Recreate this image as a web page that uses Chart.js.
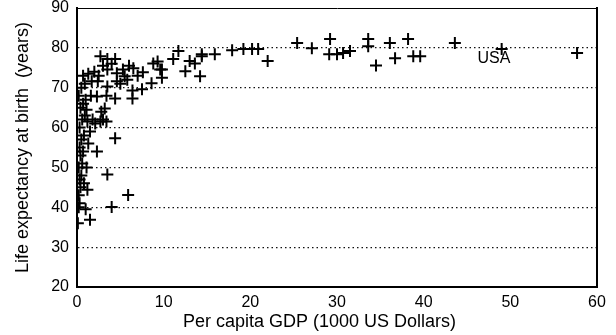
<!DOCTYPE html>
<html>
<head>
<meta charset="utf-8">
<script src="https://cdn.jsdelivr.net/npm/chart.js@4"></script>
<style>
  html, body { margin: 0; padding: 0; background: #fff; }
  #wrap { width: 616px; height: 335px; position: relative; }
</style>
</head>
<body>
<div id="wrap"><canvas id="lifeChart"></canvas></div>
<script>
// === DATA (per capita GDP in 1000 USD, life expectancy in years) ===
const gdp = [
  0.1, 0.2, 0.3, 0.2, 0.4, 0.3, 0.5, 0.2, 0.6, 0.4, 0.3, 0.7, 0.5, 0.8, 0.3, 0.6, 0.9, 0.4, 0.7, 1.0,
  0.2, 0.5, 1.2, 1.5, 1.0, 0.8, 1.1, 1.3, 1.5, 1.2, 1.8, 1.1, 1.6, 0.9, 1.3, 0.7, 1.7, 2.3, 2.3, 2.1,
  2.4, 2.0, 2.7, 3.4, 3.0, 2.8, 3.2, 3.4, 3.5, 3.5, 2.7, 3.5, 4.4, 4.0, 3.5, 4.4, 5.9, 4.4, 4.6, 4.6,
  5.3, 5.5, 6.4, 6.4, 6.5, 7.5, 7.6, 8.6, 8.8, 9.6, 9.8, 9.3, 5.0, 5.8, 2.5, 4.0, 3.0, 6.0, 7.0,
  11.1, 11.7, 13.0, 13.6, 12.5, 14.2, 14.4, 15.9, 9.8,
  14.4, 17.9, 19.2, 20.2, 20.9, 22.0, 25.4, 27.1, 29.2, 29.1, 30.0, 30.7, 31.5, 33.6, 33.6, 34.5,
  36.1, 36.7, 38.2, 38.8, 39.6, 43.6, 49.0, 57.7
];
const life = [
  36.0, 40.0, 41.0, 43.0, 45.0, 47.0, 48.0, 50.0, 51.0, 53.0, 55.0, 54.0, 57.0, 58.0, 60.0, 62.0, 63.0, 65.0, 66.0, 67.0,
  68.0, 70.0, 44.4, 36.9, 39.5, 46.0, 50.0, 56.0, 59.0, 61.5, 62.0, 64.5, 68.0, 71.0, 73.5, 73.0, 71.6, 54.0, 67.8, 61.0,
  71.6, 74.0, 61.5, 61.5, 62.0, 64.0, 64.8, 68.0, 70.3, 74.6, 77.9, 77.2, 77.2, 40.1, 48.2, 57.3, 43.1, 67.3, 71.6, 73.6,
  74.6, 72.9, 69.3, 67.3, 74.9, 69.6, 73.9, 71.1, 76.1, 74.6, 72.5, 76.6, 71.0, 72.0, 73.0, 76.0, 75.5, 75.5, 73.0,
  77.2, 79.2, 76.7, 76.1, 74.1, 72.9, 77.9, 78.4, 74.6,
  78.4, 79.4, 79.7, 79.7, 79.7, 76.7, 81.2, 79.9, 82.2, 78.4, 78.4, 78.7, 79.2, 82.2, 80.4, 75.6,
  81.2, 77.4, 82.2, 77.9, 77.9, 81.2, 79.7, 78.7
];
const xTicks = [0, 10, 20, 30, 40, 50, 60];
const yTicks = [20, 30, 40, 50, 60, 70, 80, 90];
const labelText = 'USA';
const labelPos = [48.1, 77.4];

// === CHART ===
const fontFamily = '"Liberation Sans", Arial, Helvetica, sans-serif';
const points = gdp.map((g, i) => ({ x: g, y: life[i] }));

const usaLabel = {
  id: 'usaLabel',
  afterDatasetsDraw(chart) {
    const { ctx, scales } = chart;
    ctx.save();
    ctx.font = '16px ' + fontFamily;
    ctx.fillStyle = '#000';
    ctx.textAlign = 'center';
    ctx.textBaseline = 'middle';
    ctx.fillText(labelText, scales.x.getPixelForValue(labelPos[0]), scales.y.getPixelForValue(labelPos[1]));
    ctx.restore();
  }
};

new Chart(document.getElementById('lifeChart'), {
  type: 'scatter',
  data: {
    datasets: [{
      data: points,
      pointStyle: 'cross',
      pointRadius: 6,
      borderWidth: 2,
      borderColor: '#000',
      backgroundColor: '#000'
    }]
  },
  options: {
    responsive: true,
    maintainAspectRatio: false,
    animation: false,
    layout: { padding: 0 },
    plugins: { legend: { display: false }, tooltip: { enabled: false } },
    scales: {
      x: {
        type: 'linear', position: 'bottom', min: 0, max: 60,
        afterFit: s => { s.height = 48; s.paddingLeft = 0; s.paddingRight = 0; },
        afterBuildTicks: s => { s.ticks = xTicks.map(v => ({ value: v })); },
        grid: { display: false, drawTicks: false },
        border: { display: true, color: '#000', width: 2 },
        ticks: { color: '#000', padding: 6, font: { family: fontFamily, size: 16 } },
        title: {
          display: true, text: 'Per capita GDP (1000 US Dollars)       ', color: '#000',
          font: { family: fontFamily, size: 18 }, padding: { top: 0, bottom: 2 }
        }
      },
      y: {
        type: 'linear', position: 'left', min: 20, max: 90,
        afterFit: s => { s.width = 77; s.paddingTop = 0; s.paddingBottom = 0; },
        afterBuildTicks: s => { s.ticks = yTicks.map(v => ({ value: v })); },
        grid: {
          drawTicks: false,
          lineWidth: 1.2,
          color: c => (c.tick && (c.tick.value === 20 || c.tick.value === 90)) ? 'rgba(0,0,0,0)' : '#111'
        },
        border: { display: true, color: '#000', width: 2, dash: [1.5, 3] },
        ticks: { color: '#000', padding: 8, font: { family: fontFamily, size: 16 } },
        title: {
          display: true, text: 'Life expectancy at birth  (years)', color: '#000',
          font: { family: fontFamily, size: 18 }, padding: { top: 12, bottom: 0 }
        }
      },
      x2: {
        type: 'linear', position: 'top', min: 0, max: 60,
        afterFit: s => { s.height = 7; },
        grid: { display: false, drawTicks: false },
        border: { display: true, color: '#000', width: 1 },
        ticks: { display: false }
      },
      y2: {
        type: 'linear', position: 'right', min: 20, max: 90,
        afterFit: s => { s.width = 19; },
        grid: { display: false, drawTicks: false },
        border: { display: true, color: '#000', width: 2 },
        ticks: { display: false }
      }
    }
  },
  plugins: [usaLabel]
});
</script>
</body>
</html>
